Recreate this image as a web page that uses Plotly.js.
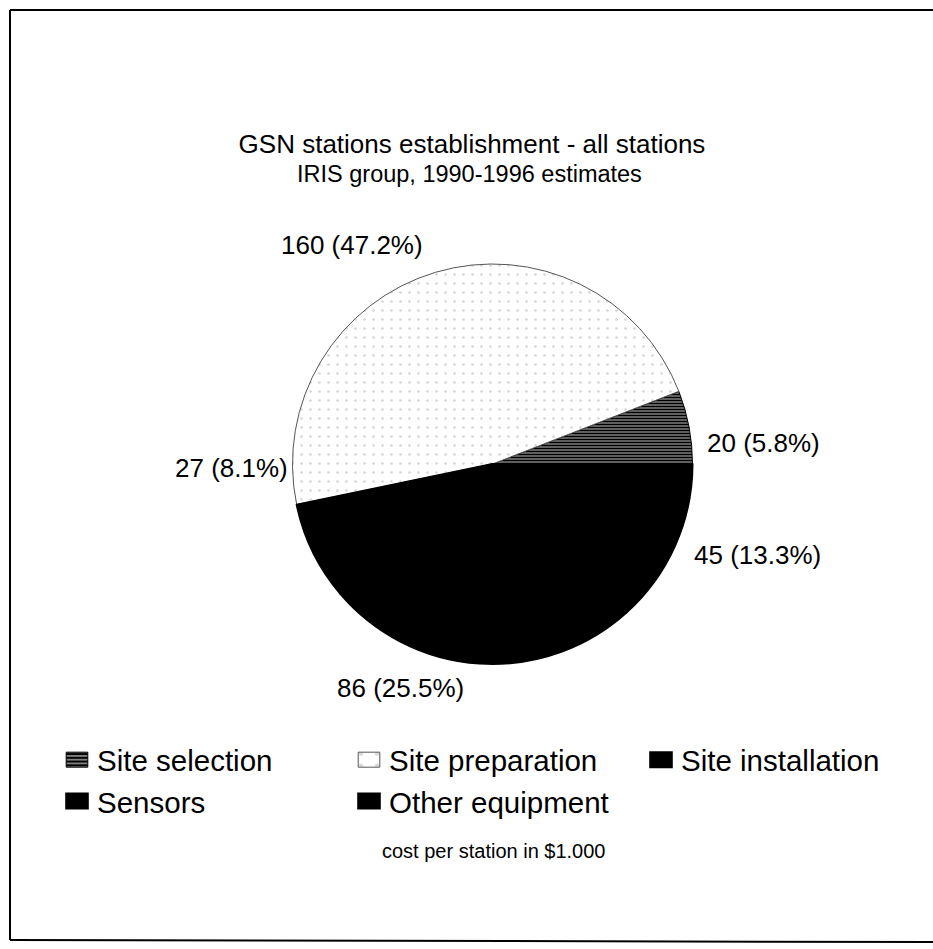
<!DOCTYPE html>
<html>
<head>
<meta charset="utf-8">
<script src="https://cdn.plot.ly/plotly-3.0.1.min.js"></script>
<style>
  html, body { margin: 0; padding: 0; background: #fff; overflow: hidden; }
  #chart { width: 933px; height: 949px; }
</style>
</head>
<body>
<div id="chart"></div>
<script>
// GSN station establishment costs (per station, in $1,000)
const categories = ['Site selection', 'Site preparation', 'Site installation', 'Sensors', 'Other equipment'];
const costs = [20, 160, 27, 86, 45];
const shares = [5.8, 47.2, 8.1, 25.5, 13.3];

const W = 933, H = 949;
const FONT = 'Liberation Sans, Arial, Helvetica, sans-serif';
const px = x => x / W;
const py = y => 1 - y / H;

// page position (px) of each slice's value label, in category order
const labelAt = [[763, 443], [352, 245], [231, 468], [400, 688], [757, 555]];

// counterclockwise pies end their first slice at `rotation`,
// so back it off by that slice's angle to start it at 3 o'clock
const total = costs.reduce((a, b) => a + b, 0);
const startRotation = 90 - 360 * costs[0] / total;

const pie = {
  type: 'pie',
  labels: categories,
  values: costs,
  sort: false,
  direction: 'counterclockwise',
  rotation: startRotation,
  textinfo: 'none',
  hovertemplate: '%{label}: %{value}<extra></extra>',
  domain: { x: [px(292.5), px(692.5)], y: [py(664), py(264)] },
  marker: {
    colors: ['#4a4a4a', '#ffffff', '#000000', '#000000', '#000000'],
    pattern: {
      shape: ['-', '.', '', '', ''],
      fgcolor: ['#000000', '#d6d6d6', '#000000', '#000000', '#000000'],
      bgcolor: ['#8c8c8c', '#ffffff', '#000000', '#000000', '#000000'],
      size: [3, 9, 8, 8, 8],
      solidity: [0.55, 0.07, 0.3, 0.3, 0.3]
    },
    line: { color: ['#000000', '#555555', '#000000', '#000000', '#000000'], width: [1, 1, 2, 2, 2] }
  }
};

const labelNotes = categories.map((c, i) => ({
  xref: 'paper', yref: 'paper',
  x: px(labelAt[i][0]), y: py(labelAt[i][1]),
  xanchor: 'center', yanchor: 'middle',
  text: `${costs[i]} (${shares[i].toFixed(1)}%)`,
  showarrow: false,
  font: { family: FONT, size: 26, color: '#000' }
}));

// page frame: left, top and bottom rules (the right side runs off the page)
const frameLine = (x0, y0, x1, y1) => ({
  type: 'line', xref: 'paper', yref: 'paper',
  x0: px(x0), y0: py(y0), x1: px(x1), y1: py(y1),
  line: { color: '#000', width: 2 }
});

const layout = {
  width: W, height: H,
  margin: { l: 0, r: 0, t: 0, b: 0 },
  paper_bgcolor: '#ffffff',
  font: { family: FONT, color: '#000' },
  title: {
    text: 'GSN stations establishment - all stations',
    font: { family: FONT, size: 26, color: '#000' },
    x: px(472), xanchor: 'center',
    y: py(144), yanchor: 'middle', yref: 'container'
  },
  showlegend: true,
  legend: {
    orientation: 'h',
    x: px(57), xanchor: 'left',
    y: py(734), yanchor: 'top',
    font: { family: FONT, size: 29.5, color: '#000' },
    entrywidth: 247, entrywidthmode: 'pixels',
    traceorder: 'normal',
    bgcolor: 'rgba(0,0,0,0)'
  },
  annotations: labelNotes.concat([
    {
      xref: 'paper', yref: 'paper',
      x: px(469), y: py(174), xanchor: 'center', yanchor: 'middle',
      text: 'IRIS group, 1990-1996 estimates',
      showarrow: false,
      font: { family: FONT, size: 23.5, color: '#000' }
    },
    {
      xref: 'paper', yref: 'paper',
      x: px(494), y: py(851), xanchor: 'center', yanchor: 'middle',
      text: 'cost per station in $1.000',
      showarrow: false,
      font: { family: FONT, size: 20, color: '#000' }
    }
  ]),
  shapes: [
    frameLine(10, 10, 933, 10),
    frameLine(10, 10, 10, 940),
    frameLine(10, 940, 933, 942)
  ]
};

Plotly.newPlot('chart', [pie], layout, { displayModeBar: false }).then(gd => {
  // widen the legend swatches into small bars
  gd.querySelectorAll('.legendpie').forEach(p => {
    const t = p.getAttribute('transform') || '';
    p.setAttribute('transform', t + ' scale(1.8,1.25)');
    p.style.vectorEffect = 'non-scaling-stroke';
  });
});
</script>
</body>
</html>
